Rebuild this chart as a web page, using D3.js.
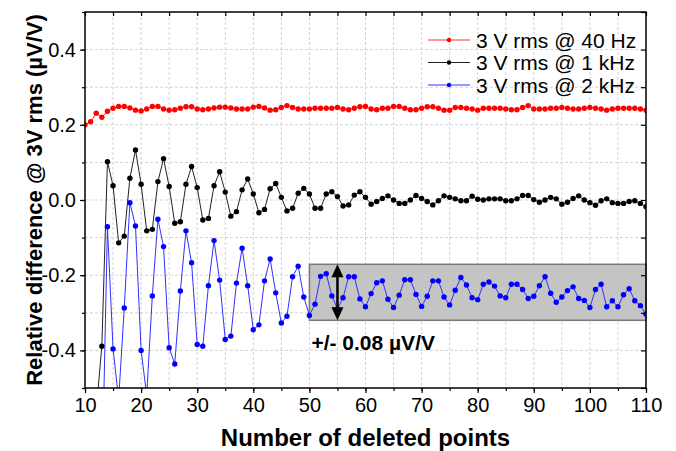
<!DOCTYPE html>
<html>
<head>
<meta charset="utf-8">
<script src="https://cdn.jsdelivr.net/npm/d3@7"></script>
<style>
body { margin: 0; background: #fff; }
text { font-family: "Liberation Sans", Arial, sans-serif; fill: #000; }
</style>
</head>
<body>
<div class="chart"></div>
<script>
// data: one value per deleted-points count
var redStart = 10;
var red40Hz = [
  0.200, 0.208, 0.231, 0.220, 0.236, 0.244, 0.249, 0.249, 0.245, 0.239,
  0.237, 0.242, 0.249, 0.249, 0.242, 0.239, 0.240, 0.244, 0.248, 0.248,
  0.242, 0.240, 0.242, 0.245, 0.247, 0.247, 0.245, 0.242, 0.242, 0.242,
  0.247, 0.249, 0.245, 0.239, 0.240, 0.246, 0.251, 0.246, 0.242, 0.242,
  0.242, 0.244, 0.244, 0.244, 0.244, 0.246, 0.242, 0.240, 0.244, 0.248,
  0.249, 0.242, 0.240, 0.244, 0.244, 0.249, 0.249, 0.244, 0.240, 0.240,
  0.244, 0.248, 0.248, 0.244, 0.239, 0.239, 0.246, 0.246, 0.244, 0.242,
  0.239, 0.244, 0.244, 0.244, 0.244, 0.242, 0.240, 0.240, 0.246, 0.251,
  0.242, 0.242, 0.242, 0.244, 0.244, 0.246, 0.244, 0.242, 0.242, 0.244,
  0.246, 0.244, 0.242, 0.239, 0.242, 0.244, 0.244, 0.244, 0.244, 0.242,
  0.239
];

var blackStart = 12;
var black1kHz = [
  -0.560, -0.389, 0.102, 0.038, -0.114, -0.096, 0.058, 0.133, 0.042, -0.082,
  -0.078, 0.049, 0.110, 0.036, -0.062, -0.058, 0.042, 0.089, 0.033, -0.053,
  -0.049, 0.038, 0.075, 0.021, -0.043, -0.031, 0.027, 0.056, 0.016, -0.034,
  -0.025, 0.030, 0.044, 0.007, -0.029, -0.022, 0.018, 0.031, 0.016, -0.022,
  -0.022, 0.016, 0.022, 0.009, -0.016, -0.013, 0.013, 0.022, 0.007, -0.011,
  -0.004, 0.004, 0.011, 0.000, -0.009, -0.009, 0.000, 0.012, 0.004, -0.004,
  -0.013, -0.002, 0.011, 0.007, 0.003, -0.002, -0.002, 0.010, 0.002, 0.000,
  0.003, 0.003, 0.003, -0.002, -0.002, 0.003, 0.012, 0.012, 0.001, -0.006,
  0.000, 0.007, 0.003, -0.011, -0.006, 0.004, 0.011, 0.000, -0.007, -0.014,
  -0.002, 0.003, -0.007, -0.009, -0.009, -0.004, -0.002, -0.009, -0.018
];

var blueStart = 13;
var blue2kHz = [
  -0.770, -0.071, -0.396, -0.530, -0.287, -0.007, -0.069, -0.400, -0.520, -0.255,
  -0.051, -0.124, -0.393, -0.436, -0.242, -0.082, -0.167, -0.384, -0.389, -0.228,
  -0.108, -0.213, -0.371, -0.362, -0.221, -0.128, -0.228, -0.345, -0.332, -0.215,
  -0.157, -0.247, -0.327, -0.309, -0.204, -0.176, -0.258, -0.307, -0.277, -0.203,
  -0.196, -0.255, -0.289, -0.260, -0.204, -0.204, -0.263, -0.284, -0.249, -0.220,
  -0.215, -0.264, -0.286, -0.253, -0.212, -0.212, -0.251, -0.283, -0.256, -0.215,
  -0.215, -0.258, -0.279, -0.240, -0.206, -0.226, -0.260, -0.265, -0.224, -0.218,
  -0.229, -0.255, -0.260, -0.224, -0.224, -0.238, -0.262, -0.256, -0.228, -0.204,
  -0.248, -0.272, -0.258, -0.241, -0.231, -0.262, -0.267, -0.286, -0.238, -0.224,
  -0.284, -0.268, -0.284, -0.252, -0.236, -0.268, -0.281, -0.304
];

var legendLabels = [`3 V rms @ 40 Hz`, `3 V rms @ 1 kHz`, `3 V rms @ 2 kHz`];
var xTicks = [10, 20, 30, 40, 50, 60, 70, 80, 90, 100, 110];
var yTicks = [-0.4, -0.2, 0.0, 0.2, 0.4];
var bandX = [50, 110];
var bandY = [-0.32, -0.171];
var arrowAt = 55;
var bandLabel = `+/- 0.08 µV/V`;

var margin = {top: 12, bottom: 63, left: 85, right: 30};
var width = 676 - margin.left - margin.right;
var height = 451 - margin.top - margin.bottom;

var svg = d3.select(`.chart`)
    .append(`svg`)
    .attr(`width`, 676)
    .attr(`height`, 451);

var g = svg.append(`g`)
    .attr(`transform`, `translate(${margin.left},${margin.top})`);

var xScale = d3.scaleLinear().domain([10, 110]).range([0, width]);
var yScale = d3.scaleLinear().domain([-0.5, 0.5]).range([height, 0]);

var minorX = d3.range(10, 111, 5);
var minorY = d3.range(-5, 6).map(d => d / 10);

g.append(`defs`).append(`clipPath`).attr(`id`, `plot`)
    .append(`rect`).attr(`width`, width).attr(`height`, height);

// dashed grid every 5 points / every 0.1
g.append(`g`).selectAll(`line`).data(minorX.slice(1, -1)).enter().append(`line`)
    .attr(`x1`, d => xScale(d)).attr(`x2`, d => xScale(d))
    .attr(`y1`, 0).attr(`y2`, height)
    .style(`stroke`, `#c8c8c8`).style(`stroke-dasharray`, `3,2`).style(`stroke-width`, 0.8);
g.append(`g`).selectAll(`line`).data(minorY.slice(1, -1)).enter().append(`line`)
    .attr(`y1`, d => yScale(d)).attr(`y2`, d => yScale(d))
    .attr(`x1`, 0).attr(`x2`, width)
    .style(`stroke`, `#c8c8c8`).style(`stroke-dasharray`, `3,2`).style(`stroke-width`, 0.8);

// grey band
g.append(`rect`)
    .attr(`x`, xScale(bandX[0]))
    .attr(`y`, yScale(bandY[1]))
    .attr(`width`, xScale(bandX[1]) - xScale(bandX[0]))
    .attr(`height`, yScale(bandY[0]) - yScale(bandY[1]))
    .style(`fill`, `#c4c4c4`)
    .style(`stroke`, `#7a7a7a`)
    .style(`stroke-width`, 1.5);

function toPoints(start, values) {
    return values.map((v, i) => [start + i, v]);
}

var series = [
    {pts: toPoints(redStart, red40Hz), color: `#ff0000`, line: `#ff3030`},
    {pts: toPoints(blackStart, black1kHz), color: `#000000`, line: `#222222`},
    {pts: toPoints(blueStart, blue2kHz), color: `#0000ff`, line: `#3030ff`}
];

var line = d3.line().x(d => xScale(d[0])).y(d => yScale(d[1]));

var plot = g.append(`g`).attr(`clip-path`, `url(#plot)`);

series.forEach(s => {
    plot.append(`path`)
        .datum(s.pts)
        .attr(`d`, line)
        .style(`fill`, `none`)
        .style(`stroke`, s.line)
        .style(`stroke-width`, 1);
    plot.append(`g`).selectAll(`circle`).data(s.pts).enter().append(`circle`)
        .attr(`cx`, d => xScale(d[0]))
        .attr(`cy`, d => yScale(d[1]))
        .attr(`r`, 2.7)
        .style(`fill`, s.color);
});

// double arrow over the band
var ax = xScale(arrowAt);
var aTop = yScale(bandY[1]);
var aBot = yScale(bandY[0]);
g.append(`line`)
    .attr(`x1`, ax).attr(`x2`, ax)
    .attr(`y1`, aTop + 10).attr(`y2`, aBot - 10)
    .style(`stroke`, `#000`).style(`stroke-width`, 2.5);
g.append(`path`)
    .attr(`d`, `M${ax},${aTop} L${ax - 6},${aTop + 13} L${ax + 6},${aTop + 13} Z`)
    .style(`fill`, `#000`);
g.append(`path`)
    .attr(`d`, `M${ax},${aBot} L${ax - 6},${aBot - 13} L${ax + 6},${aBot - 13} Z`)
    .style(`fill`, `#000`);

g.append(`text`)
    .attr(`x`, xScale(bandX[0]) + 2)
    .attr(`y`, aBot + 30)
    .style(`font-size`, `21px`)
    .style(`font-weight`, `bold`)
    .text(bandLabel);

// axes
var xAxis = d3.axisBottom(xScale).tickValues(xTicks).tickSize(5).tickPadding(5)
    .tickFormat(d3.format(`d`));
var xMinor = d3.axisBottom(xScale).tickValues(minorX).tickSize(3).tickFormat(``);
var yAxis = d3.axisLeft(yScale).tickValues(yTicks).tickSize(5).tickPadding(4)
    .tickFormat(d => d.toFixed(1));
var yMinor = d3.axisLeft(yScale).tickValues(minorY).tickSize(3).tickFormat(``);

g.append(`g`).attr(`transform`, `translate(0, ${height})`).call(xMinor);
g.append(`g`).attr(`class`, `xa`).attr(`transform`, `translate(0, ${height})`).call(xAxis);
g.append(`g`).call(yMinor);
g.append(`g`).attr(`class`, `ya`).call(yAxis);
g.append(`g`).call(d3.axisTop(xScale).tickValues(minorX).tickSize(-4).tickFormat(``));
g.append(`g`).attr(`transform`, `translate(${width},0)`)
    .call(d3.axisRight(yScale).tickValues(minorY).tickSize(-5).tickFormat(``));

g.selectAll(`.domain`).remove();
g.selectAll(`.tick line`).style(`stroke`, `#000`).style(`stroke-width`, 1.2);
g.selectAll(`.xa text, .ya text`).style(`font-size`, `20px`).style(`font-family`, `"Liberation Sans", Arial, sans-serif`);

g.append(`rect`)
    .attr(`width`, width).attr(`height`, height)
    .style(`fill`, `none`).style(`stroke`, `#000`).style(`stroke-width`, 1.5);

// axis titles
svg.append(`text`)
    .attr(`x`, margin.left + width / 2)
    .attr(`y`, 446)
    .style(`text-anchor`, `middle`)
    .style(`font-size`, `24px`)
    .style(`font-weight`, `bold`)
    .text(`Number of deleted points`);

svg.append(`text`)
    .attr(`transform`, `translate(42, ${margin.top + height / 2}) rotate(-90)`)
    .style(`text-anchor`, `middle`)
    .style(`font-size`, `22px`)
    .style(`font-weight`, `bold`)
    .text(`Relative difference @ 3V rms (µV/V)`);

// legend
var legend = g.selectAll(`.leg`)
    .data(series)
    .enter()
    .append(`g`)
    .attr(`class`, `leg`)
    .attr(`transform`, (d, i) => `translate(${428 - margin.left}, ${28 + i * 22.5})`);

legend.append(`line`)
    .attr(`x1`, 0).attr(`x2`, 42)
    .style(`stroke`, d => d.line).style(`stroke-width`, 1);
legend.append(`circle`)
    .attr(`cx`, 21).attr(`r`, 2.2)
    .style(`fill`, d => d.color);
legend.append(`text`)
    .attr(`x`, 48)
    .attr(`y`, 7.5)
    .style(`font-size`, `21px`)
    .text((d, i) => legendLabels[i]);
</script>
</body>
</html>
